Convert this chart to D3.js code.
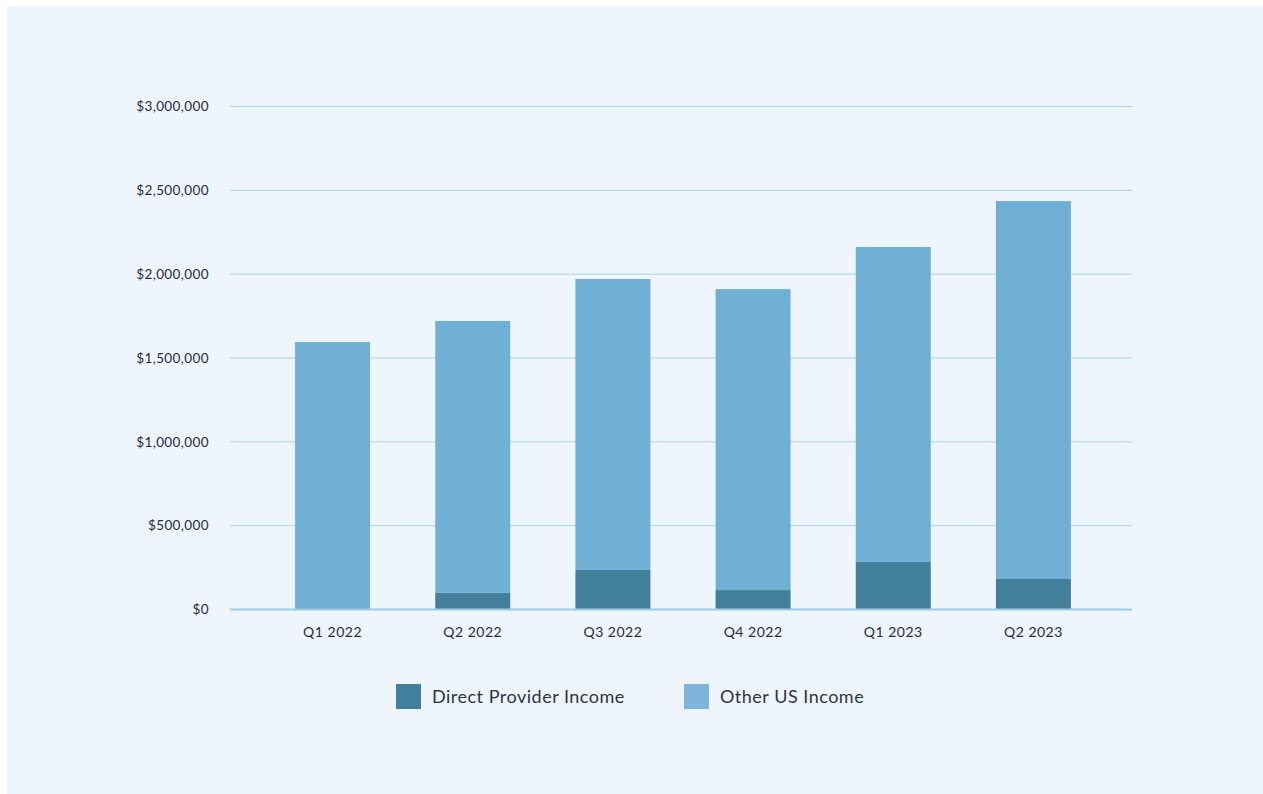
<!DOCTYPE html>
<html>
<head>
<meta charset="utf-8">
<script src="https://cdn.jsdelivr.net/npm/d3@7"></script>
<style>
  html, body { margin: 0; padding: 0; background: #ffffff; }
  svg { display: block; }
  text { font-family: Lato, "Open Sans", sans-serif; }
</style>
</head>
<body>
<svg id="chart" width="1263" height="794"></svg>
<script>
const categories = ["Q1 2022", "Q2 2022", "Q3 2022", "Q4 2022", "Q1 2023", "Q2 2023"];
const seriesNames = ["Direct Provider Income", "Other US Income"];
const directProvider = [0, 100000, 236000, 116000, 283000, 182000];
const totalIncome = [1595000, 1721000, 1971000, 1911000, 2162000, 2436000];
const otherUS = totalIncome.map((t, i) => t - directProvider[i]);
const yTicks = [0, 500000, 1000000, 1500000, 2000000, 2500000, 3000000];

const colors = { direct: "#427f9b", other: "#71b0d5", otherLegend: "#7fb5da" };

const svg = d3.select("#chart");
svg.append("rect").attr("x", 7).attr("y", 6).attr("width", 1256).attr("height", 788).attr("fill", "#eff5fd");

const x = d3.scaleBand().domain(categories).range([232, 1134]).paddingInner(0.465).paddingOuter(0.45);
const y = d3.scaleLinear().domain([0, 3000000]).range([609.5, 106.5]);

// gridlines
svg.append("g").selectAll("line").data(yTicks.filter(d => d > 0)).join("line")
  .attr("x1", 230).attr("x2", 1132)
  .attr("y1", d => y(d)).attr("y2", d => y(d))
  .attr("stroke", "#a7d3ea").attr("stroke-width", 1);

// y labels
const fmt = d => "$" + d3.format(",")(d);
svg.append("g").selectAll("text").data(yTicks).join("text")
  .attr("x", 209).attr("y", d => y(d)).attr("dy", "0.35em")
  .attr("text-anchor", "end").attr("font-size", 13.5).attr("letter-spacing", 0.4)
  .attr("fill", "#1f2b45")
  .text(fmt);

// stacked data
const rows = categories.map((c, i) => ({ cat: c, direct: directProvider[i], other: otherUS[i] }));
const stack = d3.stack().keys(["direct", "other"])(rows);
const fillFor = { direct: colors.direct, other: colors.other };

svg.append("g").selectAll("g").data(stack).join("g")
  .attr("fill", s => fillFor[s.key])
  .selectAll("rect").data(s => s).join("rect")
  .attr("x", d => x(d.data.cat))
  .attr("width", x.bandwidth())
  .attr("y", d => y(d[1]))
  .attr("height", d => y(d[0]) - y(d[1]));

// baseline
svg.append("line").attr("x1", 230).attr("x2", 1132).attr("y1", y(0)).attr("y2", y(0))
  .attr("stroke", "#9ccbe6").attr("stroke-width", 2);

// x labels
svg.append("g").selectAll("text").data(categories).join("text")
  .attr("x", d => x(d) + x.bandwidth() / 2).attr("y", 632).attr("dy", "0.35em")
  .attr("text-anchor", "middle").attr("font-size", 14).attr("letter-spacing", 0.5)
  .attr("fill", "#1f2b45")
  .text(d => d);

// legend
const legend = [
  { name: seriesNames[0], color: colors.direct, x: 396 },
  { name: seriesNames[1], color: colors.otherLegend, x: 684 }
];
const lg = svg.append("g").selectAll("g").data(legend).join("g")
  .attr("transform", d => `translate(${d.x},684)`);
lg.append("rect").attr("width", 25).attr("height", 25).attr("fill", d => d.color);
lg.append("text").attr("x", 36).attr("y", 13).attr("dy", "0.35em")
  .attr("font-size", 18).attr("letter-spacing", 0.5)
  .attr("fill", "#2b3448").text(d => d.name);
</script>
</body>
</html>
